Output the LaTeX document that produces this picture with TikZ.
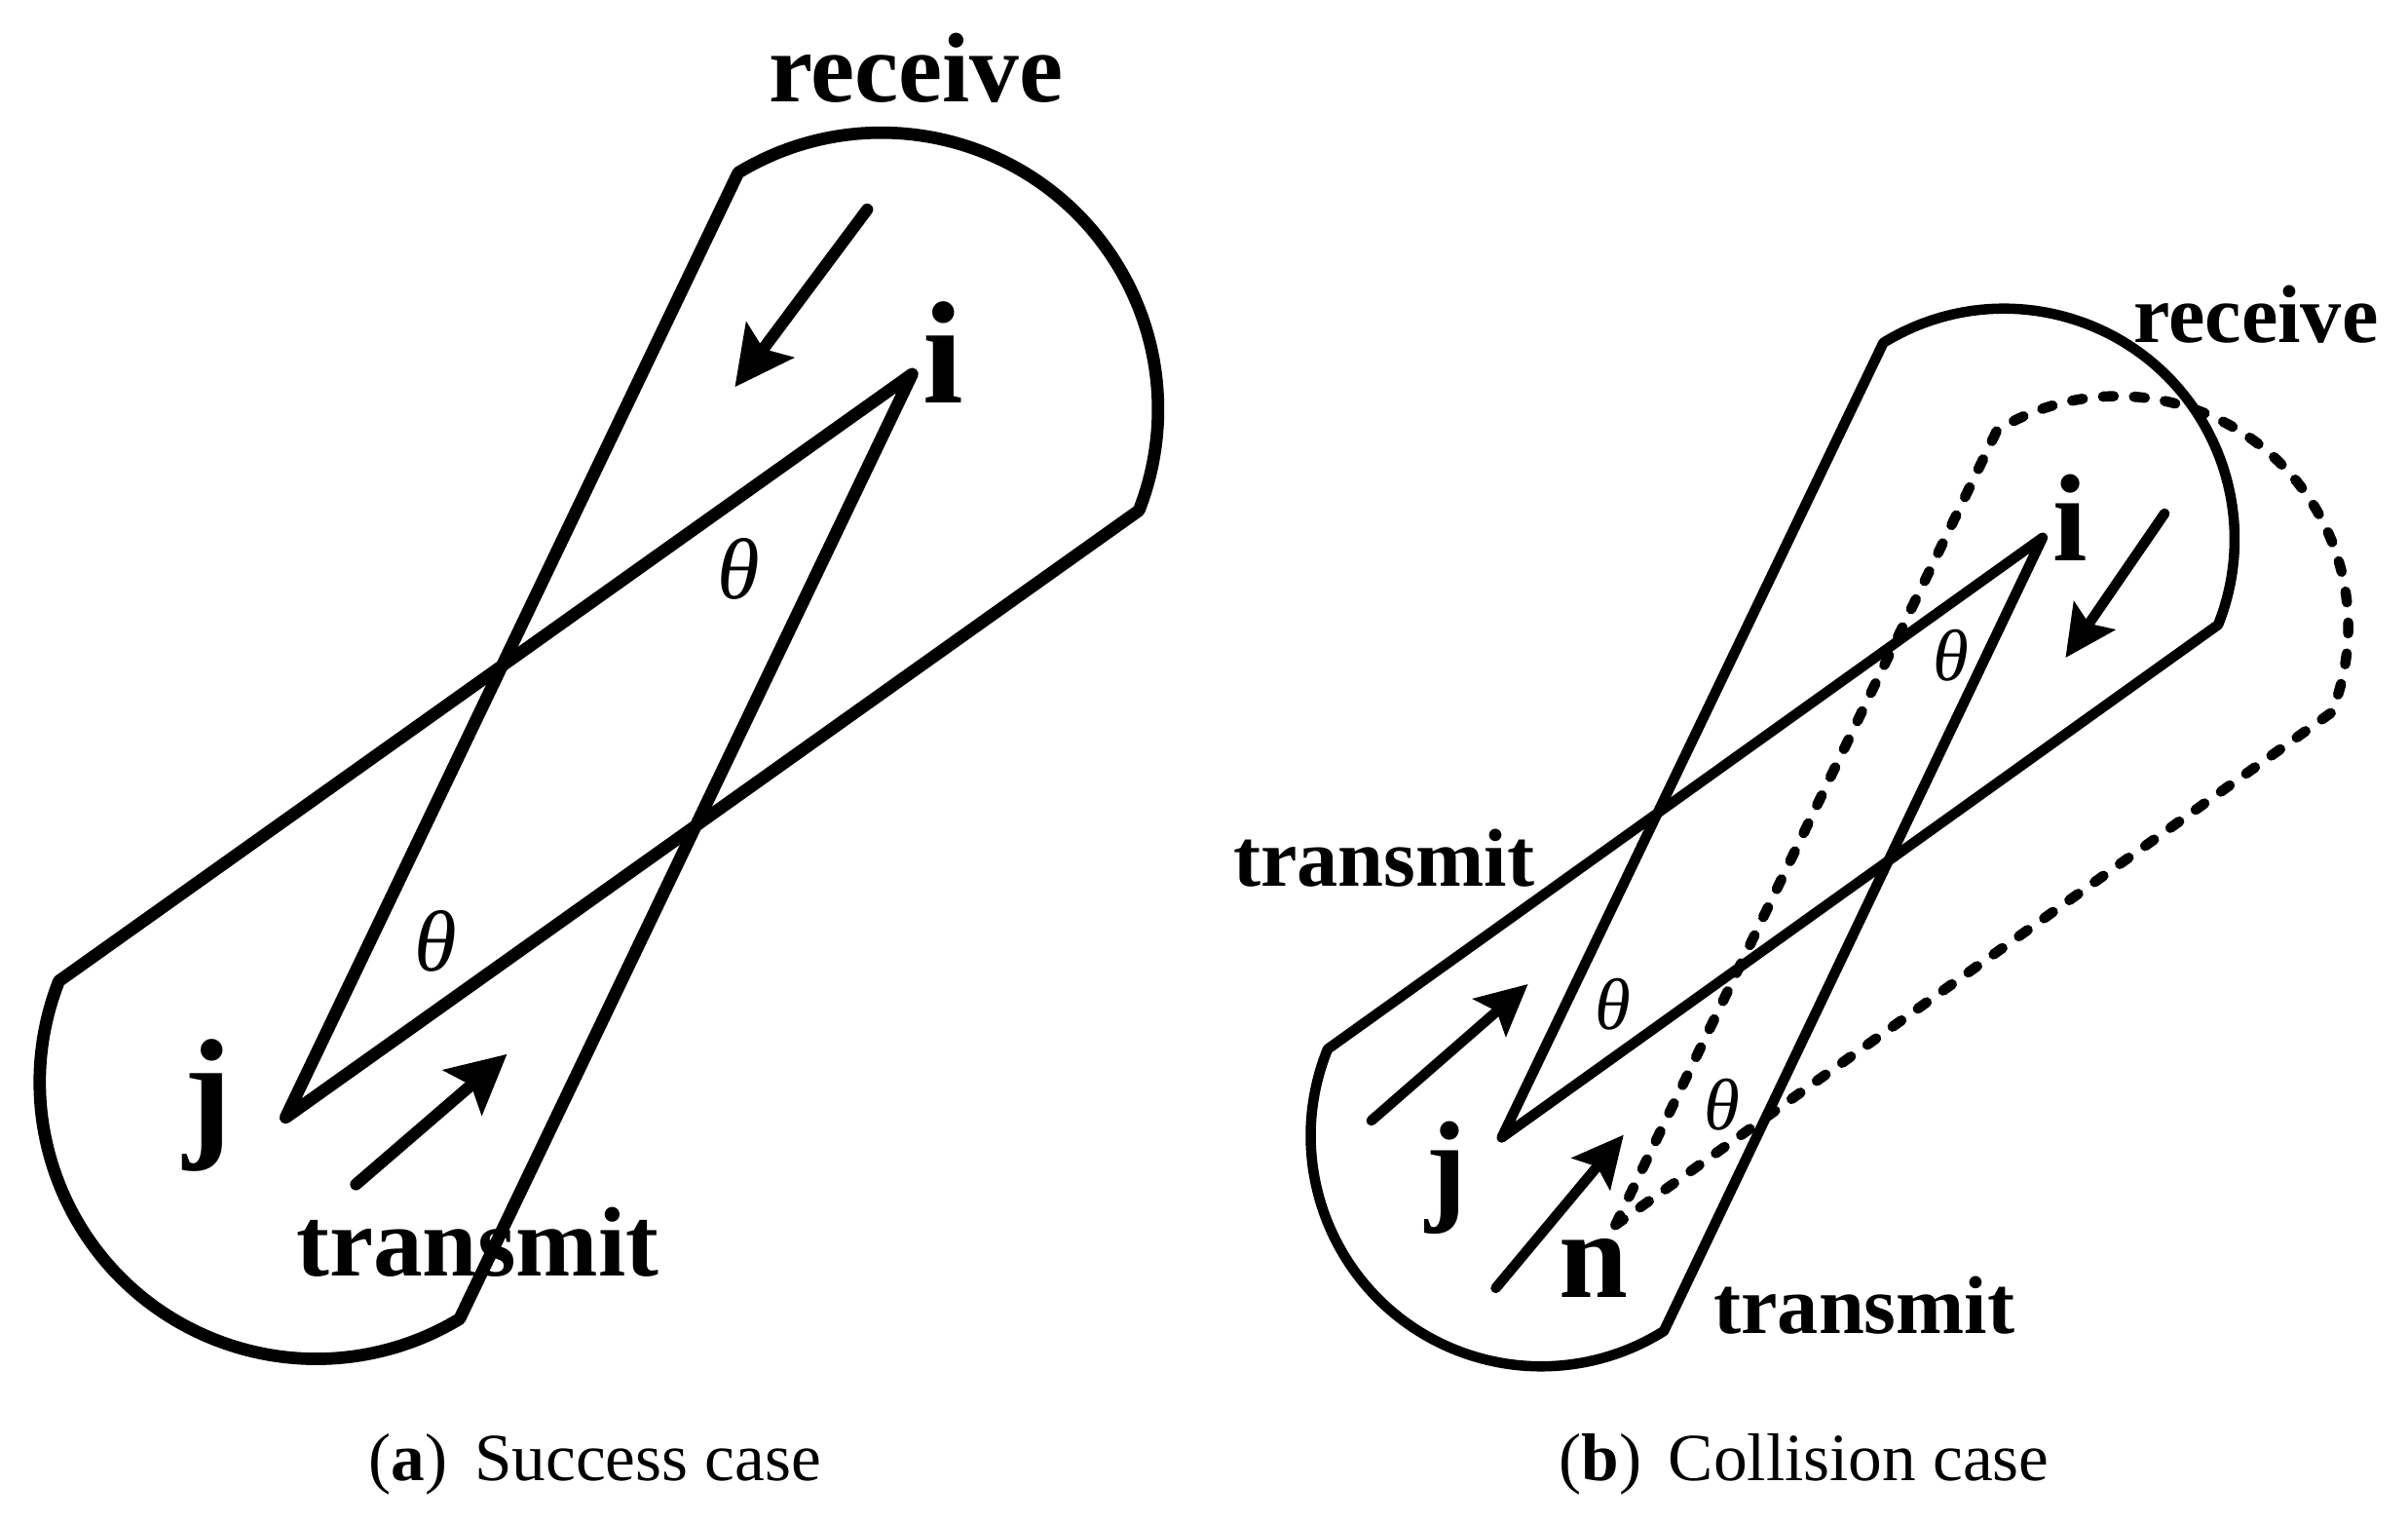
\documentclass[tikz,border=0pt]{standalone}
\usepackage{fontspec}
\setmainfont{Liberation Serif}
\usetikzlibrary{arrows.meta,calc}

\begin{document}
\begin{tikzpicture}[x=0.01cm,y=0.01cm,
  outa/.style={line width=2.3pt, line join=round},
  outb/.style={line width=1.9pt, line join=round},
  dashb/.style={line width=1.9pt, line cap=round, line join=round, dash pattern=on 2pt off 3.75pt},
  arra/.style={line width=2.2pt, line cap=round, -{Stealth[length=3.8mm,width=3.8mm,inset=0.7mm]}},
  arrb/.style={line width=1.9pt, line cap=round, -{Stealth[length=3.3mm,width=3.2mm,inset=0.6mm]}},
  worda/.style={font=\bfseries\fontsize{18.3}{20}\selectfont, anchor=base, inner sep=0pt},
  wordb/.style={font=\bfseries\fontsize{15.2}{17}\selectfont, anchor=base, inner sep=0pt},
  lettera/.style={font=\bfseries\fontsize{27}{30}\selectfont, anchor=base, inner sep=0pt},
  letterb/.style={font=\bfseries\fontsize{23}{26}\selectfont, anchor=base, inner sep=0pt},
  thetaa/.style={font=\itshape\fontsize{16}{18}\selectfont, inner sep=0pt},
  thetab/.style={font=\itshape\fontsize{13.5}{15}\selectfont, inner sep=0pt},
  capt/.style={font=\fontsize{12.5}{14}\selectfont, anchor=base, inner sep=0pt}
]
\useasboundingbox (0,0) rectangle (1568,991);

% ---------------- panel (a) ----------------
\coordinate (ia) at (594,747.5);
\coordinate (ja) at (186,263.5);
\coordinate (c1a) at (574,724.5);
\coordinate (c2a) at (206,286.5);

\draw[outa] (ja) -- ($(c1a)+(121.2:1.8cm)$) arc[start angle=121.2,end angle=-21.45,radius=1.8cm] -- cycle;
\draw[outa] (ia) -- ($(c2a)+(158.55:1.8cm)$) arc[start angle=158.55,end angle=301.2,radius=1.8cm] -- cycle;

\coordinate (ra0) at (564.7,854.6);
\coordinate (ra1) at (478.5,739);
\draw[arra] (ra0) -- (ra1);
\coordinate (ta0) at (231.8,220);
\coordinate (ta1) at (330.2,304.8);
\draw[arra] (ta0) -- (ta1);

\node[worda] (recva) at (596.5,925) {receive};
\node[worda] (trana) at (311,160.2) {transmit};
\node[lettera] (labia) at (614.2,729) {i};
\node[lettera] (labja) at (135.5,248.4) {j};
\node[thetaa] (th1a) at (480.8,620.6) {θ};
\node[thetaa] (th2a) at (284,378.2) {θ};
\node[capt] (capa) at (387.5,27) {(\textbf{a})\hspace{0.4em}Success case};

% ---------------- panel (b) ----------------
\coordinate (ib) at (1330.1,641);
\coordinate (jb) at (977.9,250.5);
\coordinate (nb) at (1051.9,193.5);
\coordinate (c1b) at (1305,640);
\coordinate (c2b) at (1003.6,251.6);
\coordinate (c3b) at (1379,583);

\draw[outb] (jb) -- ($(c1b)+(121.6:1.5cm)$) arc[start angle=121.6,end angle=-21.8,radius=1.5cm] -- cycle;
\draw[outb] (ib) -- ($(c2b)+(157.9:1.5cm)$) arc[start angle=157.9,end angle=302.15,radius=1.5cm] -- cycle;
\draw[dashb] (nb) -- ($(c3b)+(121.6:1.5cm)$) arc[start angle=121.6,end angle=-21.8,radius=1.5cm] -- cycle;

\coordinate (rb0) at (1409.5,656.7);
\coordinate (rb1) at (1345,562.8);
\draw[arrb] (rb0) -- (rb1);
\coordinate (tb0) at (893,261.5);
\coordinate (tb1) at (995,350.4);
\draw[arrb] (tb0) -- (tb1);
\coordinate (nb0) at (974,152.5);
\coordinate (nb1) at (1057.3,252.3);
\draw[arrb] (nb0) -- (nb1);

\node[wordb] (recvb) at (1469,768.2) {receive};
\node[wordb] (tranb1) at (901.2,413.8) {transmit};
\node[wordb] (tranb2) at (1214,123) {transmit};
\node[letterb] (labib) at (1348,626) {i};
\node[letterb] (labjb) at (942,204.5) {j};
\node[letterb] (labnb) at (1038,146.1) {n};
\node[thetab] (th1b) at (1270.2,564) {θ};
\node[thetab] (th2b) at (1050.3,337.4) {θ};
\node[thetab] (th3b) at (1121.3,272) {θ};
\node[capt] (capb) at (1174.8,27) {(\textbf{b})\hspace{0.4em}Collision case};
\end{tikzpicture}
\end{document}
